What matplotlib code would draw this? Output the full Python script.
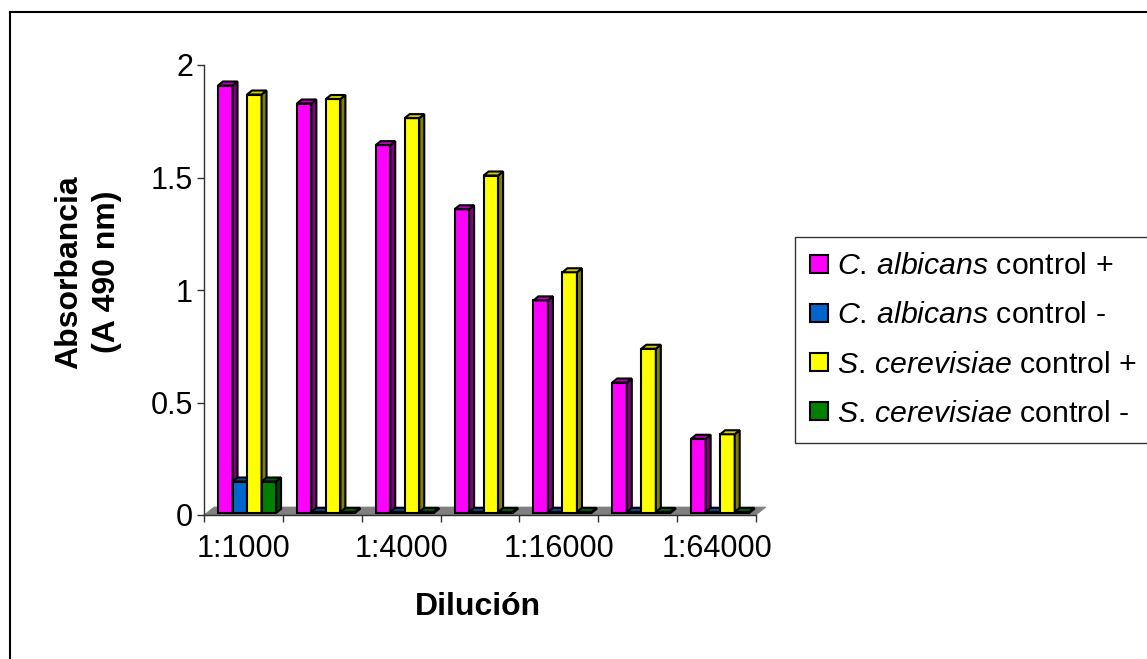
import matplotlib
matplotlib.use('Agg')
import matplotlib.pyplot as plt
from matplotlib.patches import Polygon
from matplotlib.lines import Line2D
import numpy as np

plt.rcParams['font.family'] = ['Liberation Sans', 'DejaVu Sans']
plt.rcParams['mathtext.fontset'] = 'custom'
plt.rcParams['mathtext.rm'] = 'Liberation Sans'
plt.rcParams['mathtext.it'] = 'Liberation Sans:italic'

# data
dilutions = ['1:1000', '1:2000', '1:4000', '1:8000', '1:16000', '1:32000', '1:64000']
ca_pos = [1.90, 1.82, 1.635, 1.35, 0.945, 0.58, 0.33]
ca_neg = [0.14, 0.005, 0.005, 0.005, 0.005, 0.005, 0.005]
sc_pos = [1.86, 1.84, 1.755, 1.50, 1.07, 0.73, 0.35]
sc_neg = [0.14, 0.005, 0.005, 0.005, 0.005, 0.005, 0.005]

series = [ca_pos, ca_neg, sc_pos, sc_neg]
labels = [r'$\mathit{C.\,albicans}$ control +',
          r'$\mathit{C.\,albicans}$ control -',
          r'$\mathit{S.\,cerevisiae}$ control +',
          r'$\mathit{S.\,cerevisiae}$ control -']
front = ['#FF00FF', '#0066CC', '#FFFF00', '#008000']
side = ['#800080', '#003366', '#808000', '#004000']
top = ['#C000C0', '#004C99', '#CCCC00', '#006000']

W, H = 1147, 659
fig = plt.figure(figsize=(W / 100, H / 100), dpi=100)
ax = fig.add_axes([204 / W, 1 - 515 / H, (756 - 204) / W, (515 - 65) / H])

n = len(dilutions)
ax.set_xlim(-0.5, n - 0.5)
ax.set_ylim(0, 2)

# pixel -> data helpers for the fake 3d depth
px_x = 1 / 78.8
px_y = 2 / 450

# floor
fdx, fdy = 10 * px_x, 8 * px_y
floor = Polygon([(-0.5, 0), (n - 0.5, 0), (n - 0.5 + fdx, fdy), (-0.5 + fdx, fdy)],
                closed=True, facecolor='#808080', edgecolor='#808080', lw=0.5,
                zorder=1, clip_on=False)
ax.add_patch(floor)

bw = 14.5 * px_x
start = 14 * px_x
ddx, ddy = 5 * px_x, 4 * px_y
base = 2 * px_y
lw = 1.5

for c in range(n):
    for i, vals in enumerate(series):
        x0 = c - 0.5 + start + i * bw
        h = vals[c]
        z = 2 + c * 10 + i
        ax.bar(x0, h, width=bw, bottom=base, align='edge', color=front[i],
               edgecolor='black', lw=lw, zorder=z, clip_on=False)
        # side and top faces
        ax.add_patch(Polygon([(x0 + bw, base), (x0 + bw + ddx, base + ddy),
                              (x0 + bw + ddx, base + h + ddy), (x0 + bw, base + h)],
                             closed=True, facecolor=side[i], edgecolor='black',
                             lw=lw, zorder=z, clip_on=False))
        ax.add_patch(Polygon([(x0, base + h), (x0 + ddx, base + h + ddy),
                              (x0 + bw + ddx, base + h + ddy), (x0 + bw, base + h)],
                             closed=True, facecolor=top[i], edgecolor='black',
                             lw=lw, zorder=z, clip_on=False))

for s in ['top', 'right']:
    ax.spines[s].set_visible(False)
for s in ['left', 'bottom']:
    ax.spines[s].set_color('#303030')
    ax.spines[s].set_linewidth(1)

ax.set_yticks([0, 0.5, 1, 1.5, 2])
ax.set_yticklabels(['0', '0.5', '1', '1.5', '2'])
ax.tick_params(axis='y', direction='out', length=5, width=1, color='#303030',
               labelsize=22, pad=3)
ax.set_xticks(np.arange(n + 1) - 0.5)
ax.set_xticklabels([])
ax.tick_params(axis='x', which='major', direction='out', length=5, width=1, color='#303030')
ax.set_xticks(np.arange(0, n, 2), minor=True)
ax.set_xticklabels(dilutions[::2], minor=True)
ax.tick_params(axis='x', which='minor', length=0, labelsize=22, pad=14)

fig.text(88 / W, 1 - 272 / H, 'Absorbancia\n(A 490 nm)', rotation=90, ha='center',
         va='center', fontsize=23, fontweight='bold', multialignment='center',
         linespacing=1.32)
fig.text(478 / W, 1 - 607 / H, 'Dilución', ha='center', va='center',
         fontsize=23, fontweight='bold')

handles = [Line2D([], [], marker='s', linestyle='', markersize=13,
                  markerfacecolor=front[i], markeredgecolor='black',
                  markeredgewidth=1.5) for i in range(4)]
leg = fig.legend(handles, labels, loc='upper left',
                 bbox_to_anchor=(795 / W, 1 - 237 / H), borderaxespad=0,
                 fontsize=21.8, frameon=True, fancybox=False, handlelength=0.6,
                 handletextpad=0.3, labelspacing=0.7, borderpad=0.5)
leg.get_frame().set_edgecolor('black')
leg.get_frame().set_linewidth(1)

# outer chart border (cut off at right and bottom)
fig.add_artist(Line2D([10 / W, 10 / W], [1 - 12 / H, 0], color='black', lw=1.5,
                      transform=fig.transFigure))
fig.add_artist(Line2D([10 / W, 1], [1 - 12 / H, 1 - 12 / H], color='black', lw=1.5,
                      transform=fig.transFigure))

fig.savefig('out.png', dpi=100)
